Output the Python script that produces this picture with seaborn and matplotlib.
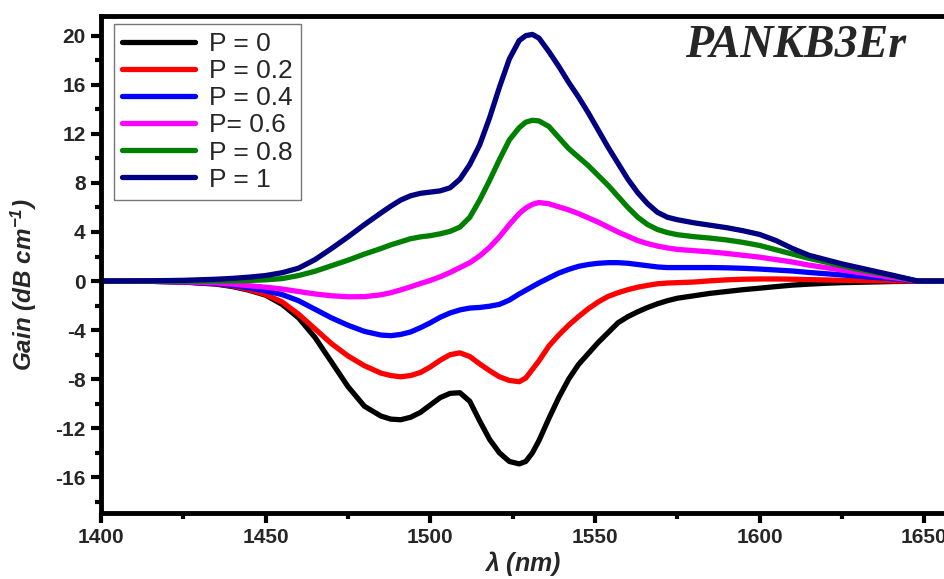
import pandas as pd
import numpy as np
import matplotlib
matplotlib.use('Agg')
import matplotlib.pyplot as plt
from matplotlib.ticker import MultipleLocator
import seaborn as sns

# wavelength grid (nm)
wavelength = [1400, 1415, 1425, 1435, 1440, 1445, 1450, 1455, 1460, 1465,
              1470, 1475, 1480, 1485, 1488, 1491, 1494, 1497, 1500, 1503,
              1506, 1509, 1512, 1515, 1518, 1521, 1524, 1527, 1529, 1531,
              1533, 1536, 1539, 1542, 1545, 1548, 1551, 1554, 1557, 1560,
              1563, 1566, 1569, 1572, 1575, 1580, 1585, 1590, 1595, 1600,
              1605, 1610, 1615, 1620, 1625, 1630, 1635, 1640, 1644, 1648,
              1656]

# gain (dB/cm) for each pumping fraction P
gain_p0 = [0, -0.02, -0.08, -0.25, -0.45, -0.75, -1.15, -1.9, -3.0, -4.6,
           -6.6, -8.6, -10.2, -11.0, -11.25, -11.3, -11.1, -10.7, -10.1, -9.5,
           -9.15, -9.1, -9.8, -11.4, -12.9, -14.0, -14.7, -14.9, -14.7, -14.0,
           -13.0, -11.2, -9.5, -8.0, -6.8, -5.9, -5.0, -4.2, -3.4, -2.9,
           -2.5, -2.15, -1.85, -1.6, -1.4, -1.2, -1.0, -0.85, -0.7, -0.58,
           -0.45, -0.33, -0.25, -0.18, -0.13, -0.1, -0.07, -0.04, -0.02, 0,
           0]
gain_p02 = [0, -0.02, -0.07, -0.22, -0.4, -0.7, -1.1, -1.7, -2.7, -3.9,
            -5.1, -6.1, -6.9, -7.5, -7.7, -7.8, -7.7, -7.45, -7.0, -6.45,
            -6.0, -5.85, -6.15, -6.75, -7.3, -7.8, -8.1, -8.2, -7.9, -7.2,
            -6.5, -5.3, -4.4, -3.6, -2.9, -2.25, -1.7, -1.25, -0.95, -0.7,
            -0.5, -0.35, -0.22, -0.16, -0.13, -0.08, 0.02, 0.1, 0.15, 0.17,
            0.17, 0.15, 0.12, 0.09, 0.06, 0.04, 0.03, 0.02, 0.01, 0,
            0]
gain_p04 = [0, -0.02, -0.07, -0.2, -0.35, -0.55, -0.8, -1.1, -1.6, -2.3,
            -3.0, -3.6, -4.1, -4.4, -4.45, -4.35, -4.15, -3.8, -3.4, -2.95,
            -2.6, -2.35, -2.2, -2.15, -2.05, -1.9, -1.55, -1.05, -0.75, -0.45,
            -0.15, 0.25, 0.65, 0.95, 1.2, 1.35, 1.45, 1.5, 1.5, 1.45,
            1.35, 1.25, 1.15, 1.1, 1.1, 1.1, 1.1, 1.08, 1.04, 0.98,
            0.9, 0.82, 0.7, 0.6, 0.5, 0.4, 0.3, 0.2, 0.1, 0,
            0]
gain_p06 = [0, -0.01, -0.05, -0.15, -0.25, -0.38, -0.5, -0.65, -0.85, -1.05,
            -1.2, -1.28, -1.27, -1.12, -0.95, -0.72, -0.47, -0.2, 0.05, 0.35,
            0.7, 1.1, 1.5, 2.05, 2.75, 3.6, 4.6, 5.5, 5.95, 6.25,
            6.4, 6.3, 6.05, 5.8, 5.5, 5.15, 4.8, 4.4, 4.0, 3.65,
            3.3, 3.05, 2.85, 2.7, 2.58, 2.48, 2.38, 2.25, 2.1, 1.95,
            1.75, 1.55, 1.3, 1.1, 0.9, 0.7, 0.5, 0.3, 0.15, 0,
            0]
gain_p08 = [0, 0, 0, 0.01, 0.02, 0.05, 0.1, 0.2, 0.45, 0.8,
            1.25, 1.7, 2.2, 2.65, 2.95, 3.2, 3.45, 3.6, 3.7, 3.85,
            4.05, 4.4, 5.2, 6.6, 8.2, 9.9, 11.5, 12.5, 12.95, 13.1,
            13.05, 12.6, 11.7, 10.8, 10.1, 9.4, 8.6, 7.8, 6.9, 6.0,
            5.2, 4.6, 4.2, 3.95, 3.78, 3.62, 3.5, 3.35, 3.15, 2.9,
            2.55, 2.2, 1.85, 1.55, 1.25, 0.95, 0.7, 0.45, 0.22, 0,
            0]
gain_p1 = [0, 0.02, 0.06, 0.15, 0.22, 0.32, 0.45, 0.68, 1.05, 1.75,
           2.65, 3.6, 4.6, 5.55, 6.1, 6.6, 6.95, 7.15, 7.25, 7.35,
           7.6, 8.3, 9.5, 11.1, 13.3, 15.8, 18.1, 19.6, 20.0, 20.1,
           19.8, 18.7, 17.5, 16.2, 15.0, 13.7, 12.3, 10.9, 9.6, 8.3,
           7.2, 6.3, 5.6, 5.2, 5.0, 4.75, 4.55, 4.35, 4.1, 3.8,
           3.3, 2.65, 2.1, 1.75, 1.4, 1.1, 0.8, 0.5, 0.25, 0,
           0]

labels = ['P = 0', 'P = 0.2', 'P = 0.4', 'P= 0.6', 'P = 0.8', 'P = 1']
colors = ['#000000', '#ff0000', '#0000ff', '#ff00ff', '#008000', '#000080']
series = [gain_p0, gain_p02, gain_p04, gain_p06, gain_p08, gain_p1]

# long-form table for seaborn
df = pd.concat([pd.DataFrame({'wl': wavelength, 'gain': g, 'P': lab})
                for g, lab in zip(series, labels)], ignore_index=True)

sns.set_theme(style='ticks')
plt.rcParams['font.family'] = ['Liberation Sans', 'DejaVu Sans']
plt.rcParams['mathtext.default'] = 'regular'
plt.rcParams['axes.unicode_minus'] = False

fig = plt.figure(figsize=(9.44, 5.79), dpi=100)
ax = fig.add_axes([101 / 944, 1 - 513 / 579, (944 - 101) / 944, (513 - 16) / 579])

sns.lineplot(data=df, x='wl', y='gain', hue='P', hue_order=labels,
             palette=colors, linewidth=3.8, sort=False, ax=ax)
for ln in ax.get_lines():
    ln.set_solid_joinstyle('round')
    ln.set_solid_capstyle('round')

ax.set_xlim(1400, 1656)
ax.set_ylim(-18.9, 21.6)
ax.xaxis.set_major_locator(MultipleLocator(50))
ax.xaxis.set_minor_locator(MultipleLocator(25))
ax.yaxis.set_major_locator(MultipleLocator(4))
ax.yaxis.set_minor_locator(MultipleLocator(2))

for side in ['left', 'bottom', 'top']:
    ax.spines[side].set_linewidth(3.5)
    ax.spines[side].set_color('black')
ax.spines['right'].set_visible(False)

ax.tick_params(which='major', direction='out', length=7, width=3, color='black',
               labelsize=15, pad=4)
ax.tick_params(which='minor', direction='out', length=4.5, width=3, color='black')
for lab in ax.get_xticklabels() + ax.get_yticklabels():
    lab.set_fontweight('bold')

ax.set_xlabel(r'$\lambda$ (nm)', fontsize=18, fontweight='bold', fontstyle='italic',
              labelpad=1)
ax.set_ylabel(r'Gain (dB cm$^{-1}$)', fontsize=17.5, fontweight='bold', fontstyle='italic')
ax.yaxis.set_label_coords(-0.073, 0.46)

leg = ax.legend(loc='upper left', bbox_to_anchor=(0.016, 0.984), fontsize=19,
                frameon=True, fancybox=False, handlelength=2.75, handletextpad=0.55,
                labelspacing=0.12, borderpad=0.3, borderaxespad=0)
leg.get_frame().set_edgecolor('#555555')
leg.get_frame().set_linewidth(1.0)
for line in leg.get_lines():
    line.set_linewidth(3.8)

ax.text(0.955, 0.94, 'PANKB3Er', transform=ax.transAxes, ha='right', va='center',
        fontsize=33, fontweight='bold', fontstyle='italic', family='Liberation Serif')

fig.savefig('out.png', dpi=100)
